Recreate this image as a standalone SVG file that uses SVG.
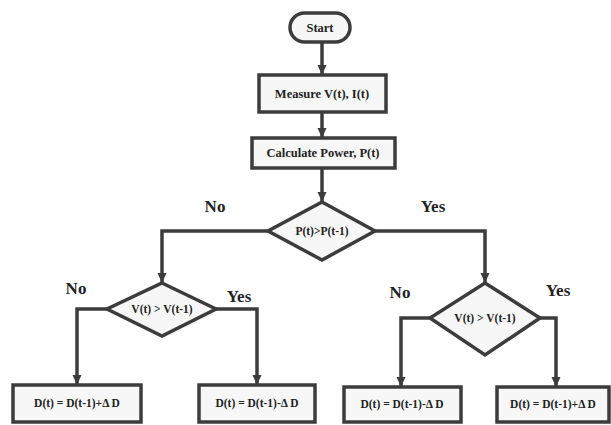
<svg xmlns="http://www.w3.org/2000/svg" width="611" height="425" viewBox="0 0 611 425">
<style>
.shape{fill:#f7f7f7;stroke:#3c3c3c;stroke-width:3.5}
.t{font-family:"Liberation Serif","Times New Roman",serif;font-weight:bold;fill:#222;text-anchor:middle;dominant-baseline:central}
.s{font-size:12.5px}
.d{font-size:11.5px}
.lbl{font-family:"Liberation Serif","Times New Roman",serif;font-weight:bold;fill:#222;font-size:17px;text-anchor:middle;dominant-baseline:central}
.c{fill:none;stroke:#3c3c3c;stroke-width:3.5;marker-end:url(#ah)}
</style>
<defs>
<marker id="ah" markerUnits="userSpaceOnUse" markerWidth="10" markerHeight="10" viewBox="0 0 10 10" refX="10" refY="5" orient="auto">
<path d="M0 0.5 L10 5 L0 9.5 Z" fill="#3c3c3c"/>
</marker>
</defs>
<rect width="611" height="425" fill="#ffffff"/>
<g id="connectors">
<path class="c" d="M322 42 V75"/>
<path class="c" d="M322 112 V138"/>
<path class="c" d="M322 168 V202"/>
<path class="c" d="M268 231 H162 V283"/>
<path class="c" d="M375 231 H485 V283"/>
<path class="c" d="M107 309 H77 V385"/>
<path class="c" d="M216 309 H257 V385"/>
<path class="c" d="M430 318 H401 V387"/>
<path class="c" d="M540 318 H556 V387"/>
</g>
<g id="start">
<rect class="shape" x="290" y="13" width="60" height="29" rx="14.5"/>
<text class="t s" x="320" y="27.5">Start</text>
</g>
<g id="measure">
<rect class="shape" x="259" y="75" width="127" height="37"/>
<text class="t s" x="322" y="93.5">Measure V(t), I(t)</text>
</g>
<g id="calculate">
<rect class="shape" x="252" y="138" width="143" height="30"/>
<text class="t s" x="323" y="153">Calculate Power, P(t)</text>
</g>
<g id="decision1">
<polygon class="shape" points="322,202 375,231 322,260 268,231"/>
<text class="t d" x="322" y="231">P(t)&gt;P(t-1)</text>
</g>
<g id="decision2">
<polygon class="shape" points="162,283 216,309 162,336 107,309"/>
<text class="t d" x="162" y="309">V(t) &gt; V(t-1)</text>
</g>
<g id="decision3">
<polygon class="shape" points="485,283 540,318 485,355 430,318"/>
<text class="t d" x="485" y="318">V(t) &gt; V(t-1)</text>
</g>
<g id="box1">
<rect class="shape" x="13" y="385" width="128" height="37"/>
<text class="t d" x="77" y="403">D(t) = D(t-1)+Δ D</text>
</g>
<g id="box2">
<rect class="shape" x="199" y="385" width="116" height="37"/>
<text class="t d" x="257" y="403">D(t) = D(t-1)-Δ D</text>
</g>
<g id="box3">
<rect class="shape" x="344" y="387" width="117" height="35"/>
<text class="t d" x="402" y="404">D(t) = D(t-1)-Δ D</text>
</g>
<g id="box4">
<rect class="shape" x="497" y="387" width="112" height="35"/>
<text class="t d" x="553" y="404">D(t) = D(t-1)+Δ D</text>
</g>
<g id="labels">
<text class="lbl" x="215" y="206">No</text>
<text class="lbl" x="433" y="206">Yes</text>
<text class="lbl" x="76" y="288">No</text>
<text class="lbl" x="239" y="296">Yes</text>
<text class="lbl" x="400" y="292">No</text>
<text class="lbl" x="558" y="290">Yes</text>
</g>
</svg>
